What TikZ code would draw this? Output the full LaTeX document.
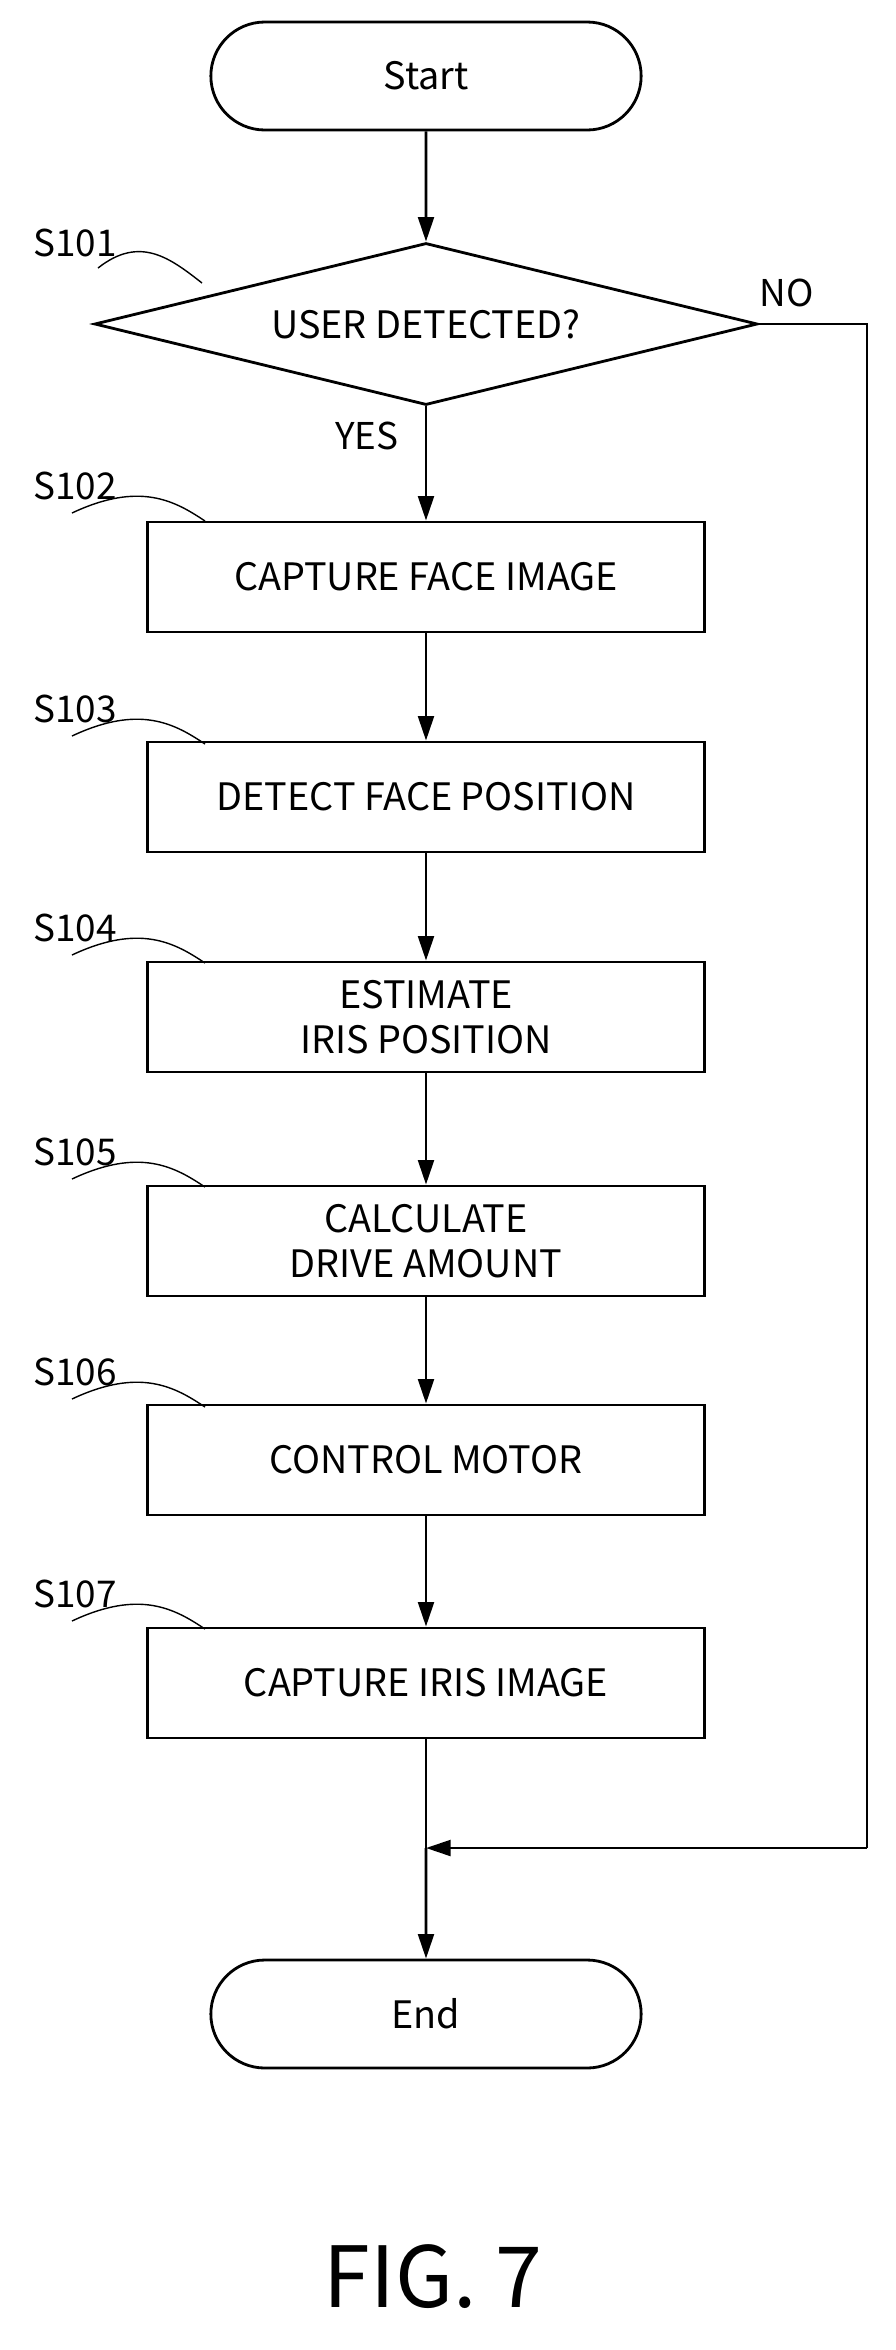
\documentclass[tikz,border=0pt]{standalone}
\usepackage{fontspec}
\setmainfont{Noto Sans CJK JP}
\usetikzlibrary{shapes.geometric,shapes.misc,arrows.meta}
\begin{document}
\begin{tikzpicture}[x=0.02cm,y=-0.02cm,
  line width=1.6pt, >={Triangle[length=14pt,width=9pt]},
  box/.style={draw,minimum width=557*0.02cm,minimum height=110*0.02cm,font=\fontsize{21.5}{26}\selectfont,align=center,inner sep=0pt},
  term/.style={draw,rounded rectangle,minimum width=442*0.02cm,minimum height=108*0.02cm,font=\fontsize{21.5}{26}\selectfont},
  lab/.style={font=\fontsize{21}{25}\selectfont},
  sq/.style={line width=0.8pt}]
\useasboundingbox (0,0) rectangle (896,2350);
\node[term] (start) at (426,76) {Start};
\node[draw,diamond,aspect=4.1,minimum width=663*0.02cm,minimum height=162*0.02cm,inner sep=0pt,font=\fontsize{21.5}{26}\selectfont] (d) at (426,324) {USER DETECTED?};
\node[box] (s2) at (426,577) {CAPTURE FACE IMAGE};
\node[box] (s3) at (426,797) {DETECT FACE POSITION};
\node[box] (s4) at (426,1017) {ESTIMATE\\IRIS POSITION};
\node[box] (s5) at (426,1241) {CALCULATE\\DRIVE AMOUNT};
\node[box] (s6) at (426,1460) {CONTROL MOTOR};
\node[box] (s7) at (426,1683) {CAPTURE IRIS IMAGE};
\node[term] (end) at (426,2014) {End};
\coordinate (m) at (426,1848);
\coordinate (r1) at (867,324);
\coordinate (r2) at (867,1848);
\draw[->] (start) -- (d);
\draw[->] (d) -- (s2);
\draw[->] (s2) -- (s3);
\draw[->] (s3) -- (s4);
\draw[->] (s4) -- (s5);
\draw[->] (s5) -- (s6);
\draw[->] (s6) -- (s7);
\draw (s7) -- (m);
\draw[->] (m) -- (end);
\draw (d.east) -- (r1) -- (r2);
\draw[->] (r2) -- (m);
\node[lab] (no) at (787,293) {NO};
\node[lab] (yes) at (367,436) {YES};
\node[lab] (l1) at (75,243) {S101};
\draw[sq] (98,268) .. controls (140,235) and (170,258) .. (202,283);
\foreach \n/\y in {2/521,3/744,4/963,5/1187,6/1407,7/1629}{
  \node[lab] (l\n) at (75,\y-35) {S10\n};
  \draw[sq] (72,\y-8) .. controls (140,\y-40) and (175,\y-20) .. (205,\y);
}
\node[font=\fontsize{48}{54}\selectfont] (fig) at (433,2277) {FIG. 7};
\end{tikzpicture}
\end{document}
